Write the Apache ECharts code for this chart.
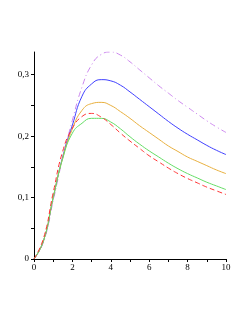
<!DOCTYPE html>
<html><head><meta charset="utf-8">
<script src="https://cdn.jsdelivr.net/npm/echarts@6/dist/echarts.min.js"></script>
<style>html,body{margin:0;padding:0;background:#fff}#c{width:249px;height:323px}</style>
</head><body><div id="c"></div>
<script>
var xs      = [0, 0.5, 1, 1.5, 2, 2.5, 3, 3.5, 4, 4.5, 5, 5.5, 6, 6.5, 7, 7.5, 8, 8.5, 9, 9.5, 10];
var purple  = [0, 0.028, 0.095, 0.165, 0.226, 0.280, 0.316, 0.333, 0.337, 0.332, 0.321, 0.308, 0.295, 0.282, 0.270, 0.258, 0.247, 0.236, 0.225, 0.215, 0.206];
var blue    = [0, 0.030, 0.100, 0.167, 0.218, 0.265, 0.285, 0.292, 0.290, 0.283, 0.272, 0.260, 0.248, 0.236, 0.224, 0.213, 0.203, 0.194, 0.185, 0.177, 0.170];
var orange  = [0, 0.030, 0.100, 0.165, 0.212, 0.242, 0.253, 0.255, 0.250, 0.240, 0.229, 0.217, 0.206, 0.195, 0.184, 0.175, 0.166, 0.159, 0.152, 0.145, 0.139];
var green   = [0, 0.030, 0.100, 0.164, 0.205, 0.221, 0.229, 0.229, 0.223, 0.212, 0.199, 0.187, 0.176, 0.166, 0.156, 0.147, 0.139, 0.132, 0.125, 0.119, 0.113];
var red     = [0, 0.034, 0.108, 0.176, 0.213, 0.232, 0.237, 0.231, 0.219, 0.205, 0.192, 0.180, 0.168, 0.158, 0.148, 0.139, 0.131, 0.124, 0.117, 0.111, 0.105];
var xTicks  = [0,1,2,3,4,5,6,7,8,9,10];
var xLabels = [0,2,4,6,8,10];
var yTicks  = [0,0.05,0.1,0.15,0.2,0.25,0.3];
var yLabels = [0,0.1,0.2,0.3];

function pts(ys){ return xs.map(function(x,i){ return [x, ys[i]]; }); }
function fmt(v){ return String(+v.toFixed(2)).replace('.', ','); }

var font = {fontFamily:'Liberation Serif', fontSize:9, color:'#000'};
var chart = echarts.init(document.getElementById('c'));
function ser(data, color, type){
  return {type:'line', data:pts(data), smooth:0.5, showSymbol:false, symbol:'none',
    lineStyle:{color:color, width:1, type:type}, animation:false};
}
chart.setOption({
  animation:false,
  grid:{left:34, right:23, top:52, bottom:64},
  xAxis:{type:'value', min:0, max:10,
    axisLine:{lineStyle:{color:'#000', width:1}},
    axisTick:{customValues:xTicks, length:3, lineStyle:{color:'#000'}},
    axisLabel:Object.assign({customValues:xLabels, margin:4}, font),
    splitLine:{show:false}},
  yAxis:{type:'value', min:0, max:0.337,
    axisLine:{show:true, lineStyle:{color:'#000', width:1}},
    axisTick:{show:true, customValues:yTicks, length:3, lineStyle:{color:'#000'}},
    axisLabel:Object.assign({customValues:yLabels, margin:5, formatter:fmt}, font),
    splitLine:{show:false}},
  series:[
    ser(purple, '#cc88ee', [6,3,1,3]),
    ser(blue, '#4040ff', 'solid'),
    ser(orange, '#e8b040', 'solid'),
    ser(green, '#66dd66', 'solid'),
    ser(red, '#ff3333', [5,3])
  ]
});
</script></body></html>
